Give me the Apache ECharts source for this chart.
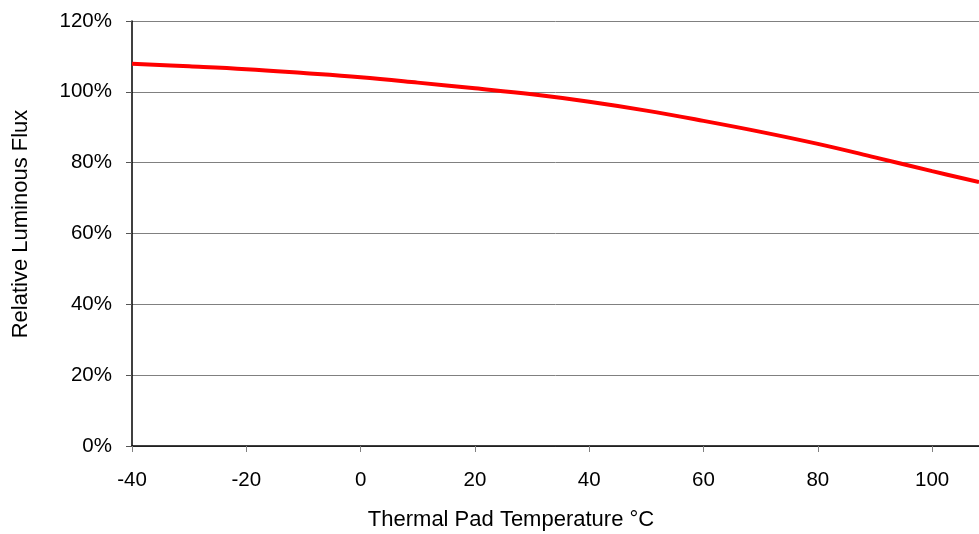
<!DOCTYPE html>
<html>
<head>
<meta charset="utf-8">
<style>
  html, body { margin: 0; padding: 0; background: #fff; }
  #chart { width: 979px; height: 534px; }
</style>
<script src="https://cdn.jsdelivr.net/npm/echarts@6/dist/echarts.min.js"></script>
</head>
<body>
<div id="chart"></div>
<script>
// Thermal pad temperature (°C) and relative luminous flux (%)
const temperatures = [-40, -30, -20, -10, 0, 10, 20, 30, 40, 50, 60, 70, 80, 90, 100, 108.2];
const relativeFlux = [107.9, 107.2, 106.4, 105.3, 104.1, 102.6, 101.0, 99.3, 97.2, 94.7, 91.8, 88.7, 85.3, 81.5, 77.6, 74.5];

const xTicks = [-40, -20, 0, 20, 40, 60, 80, 100];
const yTicks = [0, 20, 40, 60, 80, 100, 120];

const xAxisTitle = 'Thermal Pad Temperature °C';
const yAxisTitle = 'Relative Luminous Flux';

const FONT = 'Liberation Sans, Arial, sans-serif';

const chart = echarts.init(document.getElementById('chart'), null, { renderer: 'canvas' });

chart.setOption({
  animation: false,
  backgroundColor: '#ffffff',
  grid: { left: 132, right: 0, top: 21, bottom: 88, containLabel: false },
  xAxis: {
    type: 'value',
    min: -40,
    max: 108.2,
    interval: 20,
    axisLine: { show: true, onZero: false, lineStyle: { color: '#000', width: 1.5 } },
    axisTick: { show: true, length: 6, lineStyle: { color: '#808080' } },
    axisLabel: {
      color: '#000', fontFamily: FONT, fontSize: 20.5, margin: 24,
      showMaxLabel: false,
      formatter: v => (xTicks.indexOf(v) >= 0 ? String(v) : '')
    },
    splitLine: { show: false }
  },
  yAxis: {
    type: 'value',
    min: 0,
    max: 120,
    interval: 20,
    axisLine: { show: true, onZero: false, lineStyle: { color: '#000', width: 1.5 } },
    axisTick: { show: true, length: 6, lineStyle: { color: '#555' } },
    axisLabel: {
      color: '#000', fontFamily: FONT, fontSize: 20.5, margin: 20,
      formatter: v => (yTicks.indexOf(v) >= 0 ? v + '%' : '')
    },
    splitLine: { show: true, lineStyle: { color: '#808080', width: 1 } }
  },
  graphic: [
    {
      type: 'text',
      x: 511, y: 520,
      style: {
        text: xAxisTitle, fill: '#000', font: '22px ' + FONT,
        align: 'center', verticalAlign: 'middle'
      }
    },
    {
      type: 'text',
      x: 21, y: 224, rotation: Math.PI / 2,
      style: {
        text: yAxisTitle, fill: '#000', font: '22px ' + FONT,
        align: 'center', verticalAlign: 'middle'
      }
    }
  ],
  series: [{
    type: 'line',
    data: temperatures.map((t, i) => [t, relativeFlux[i]]),
    smooth: 0.4,
    showSymbol: false,
    clip: true,
    lineStyle: { color: '#ff0000', width: 4 }
  }]
});
</script>
</body>
</html>
